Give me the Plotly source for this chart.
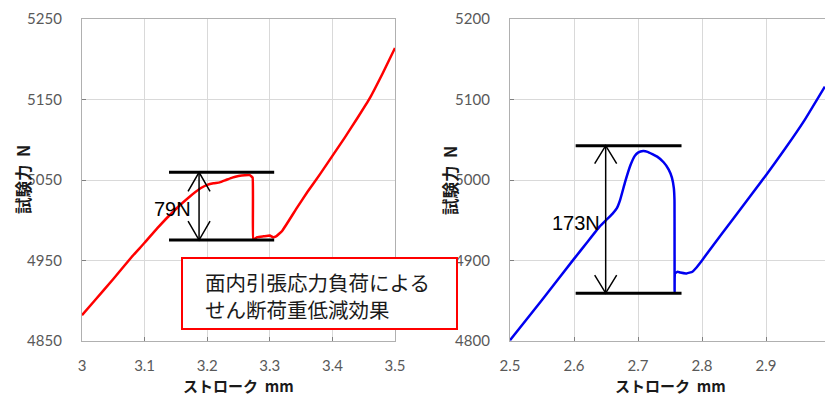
import plotly.graph_objects as go

# ---- data ----
left_x = [3.00, 3.02, 3.05, 3.08, 3.10, 3.12, 3.15, 3.17, 3.19, 3.20, 3.21, 3.22, 3.23, 3.24,
          3.25, 3.26, 3.268, 3.2725, 3.2735, 3.276, 3.28, 3.29, 3.30, 3.305, 3.31, 3.32, 3.343,
          3.36, 3.38, 3.40, 3.42, 3.44, 3.46, 3.48, 3.50]
left_y = [4882, 4900, 4927, 4955, 4972, 4990, 5014, 5028, 5040, 5044, 5046, 5047, 5050, 5053,
          5055, 5056, 5056, 5053, 4977, 4977, 4979, 4980, 4981, 4979, 4980, 4987, 5015,
          5035, 5057, 5080, 5103, 5127, 5152, 5182, 5214]

right_x = [2.50, 2.55, 2.60, 2.62, 2.64, 2.65, 2.66, 2.667, 2.672, 2.68, 2.688, 2.695, 2.70,
           2.708, 2.715, 2.73, 2.74, 2.748, 2.753, 2.756, 2.757, 2.7572, 2.7578, 2.762, 2.766,
           2.776, 2.785, 2.79, 2.80, 2.81, 2.85, 2.90, 2.93, 2.96, 2.992]
right_y = [4801, 4851, 4902, 4922, 4942, 4950, 4958, 4965, 4975, 4998, 5018, 5030, 5034,
           5036, 5035, 5029, 5022, 5013, 5003, 4990, 4975, 4861, 4884, 4886, 4885,
           4884, 4886, 4890, 4900, 4911, 4953, 5006, 5039, 5074, 5116]

# drop annotations: [top level, bottom level], horizontal extent, arrow x, label
left_levels = [5059.6, 4975.4]
left_span = [3.139, 3.307]
left_arrow_x = 3.187
left_label = "79N"
left_label_pos = [3.1438, 5014]

right_levels = [5042.6, 4859.4]
right_span = [2.6026, 2.768]
right_arrow_x = 2.6495
right_label = "173N"
right_label_pos = [2.6026, 4946]

left_xticks = [3.0, 3.1, 3.2, 3.3, 3.4, 3.5]
left_xtick_text = ["3", "3.1", "3.2", "3.3", "3.4", "3.5"]
right_xticks = [2.5, 2.6, 2.7, 2.8, 2.9, 3.0]
right_xtick_text = ["2.5", "2.6", "2.7", "2.8", "2.9", "3"]

box_text = "面内引張応力負荷による<br>せん断荷重低減効果"
x_title = "ストローク\u00a0\u00a0mm"
y_title = "試験力\u00a0\u00a0N"

W, H = 825, 395
fig = go.Figure()

fig.add_trace(go.Scatter(x=left_x, y=left_y, mode="lines", xaxis="x", yaxis="y",
                         line=dict(color="#ff0000", width=2.5, shape="spline", smoothing=0.3),
                         showlegend=False))
fig.add_trace(go.Scatter(x=right_x, y=right_y, mode="lines", xaxis="x2", yaxis="y2",
                         line=dict(color="#0000f0", width=2.5, shape="spline", smoothing=0.3),
                         showlegend=False))


def add_dim(xa, ya, levels, span, ax, hx, hy):
    top, bot = levels
    for lv in levels:
        fig.add_trace(go.Scatter(x=span, y=[lv, lv], mode="lines", xaxis=xa, yaxis=ya,
                                 line=dict(color="black", width=3), showlegend=False))
    fig.add_trace(go.Scatter(x=[ax, ax], y=[top, bot], mode="lines", xaxis=xa, yaxis=ya,
                             line=dict(color="black", width=1.5), showlegend=False))
    fig.add_trace(go.Scatter(x=[ax - hx, ax, ax + hx], y=[top - hy, top, top - hy], mode="lines",
                             xaxis=xa, yaxis=ya, line=dict(color="black", width=1.5), showlegend=False))
    fig.add_trace(go.Scatter(x=[ax - hx, ax, ax + hx], y=[bot + hy, bot, bot + hy], mode="lines",
                             xaxis=xa, yaxis=ya, line=dict(color="black", width=1.5), showlegend=False))


# arrowhead sizes: ~11 px half-width, ~19 px length converted to data units
add_dim("x", "y", left_levels, left_span, left_arrow_x, 11 * 0.5 / 313, 19 * 400 / 322)
add_dim("x2", "y2", right_levels, right_span, right_arrow_x, 11 * 0.1 / 64, 18 * 400 / 322)

tick_font = dict(family="Lato, Open Sans, sans-serif", size=15, color="#595959")
ydom = [1 - 341 / H, 1 - 19 / H]
common = dict(showgrid=True, gridcolor="#d9d9d9", gridwidth=1, showline=True,
              linecolor="#b0b0b0", linewidth=1.2, ticks="inside", ticklen=4,
              tickcolor="#808080", tickfont=tick_font, zeroline=False, automargin=False)

fig.update_layout(
    width=W, height=H, margin=dict(l=0, r=0, t=0, b=0, autoexpand=False),
    paper_bgcolor="white", plot_bgcolor="white",
    xaxis=dict(domain=[82 / W, 395 / W], range=[3.0, 3.5], tickvals=left_xticks,
               ticktext=left_xtick_text, mirror=True, ticklabelstandoff=11, anchor="y", **common),
    yaxis=dict(domain=ydom, range=[4850, 5250], tick0=4850, dtick=100, mirror=True,
               ticklabelstandoff=16, anchor="x", **common),
    xaxis2=dict(domain=[510 / W, 1.0], range=[2.5, 2.5 + 315 / 640], tickvals=right_xticks,
                ticktext=right_xtick_text, mirror=True, ticklabelstandoff=11, anchor="y2", **common),
    yaxis2=dict(domain=ydom, range=[4800, 5200], tick0=4800, dtick=100, mirror=False,
                ticklabelstandoff=16, anchor="x2", **common),
)

jp_bold = dict(family="Noto Sans CJK JP", size=15, color="#1a1a1a")
jp_bold_y = dict(family="Noto Sans CJK JP", size=16.5, color="#1a1a1a")
ann = [
    dict(text="<b>" + x_title + "</b>", x=238.5 / W, y=1 - 385 / H, xref="paper", yref="paper",
         showarrow=False, font=jp_bold, xanchor="center", yanchor="middle"),
    dict(text="<b>" + x_title + "</b>", x=670 / W, y=1 - 385 / H, xref="paper", yref="paper",
         showarrow=False, font=jp_bold, xanchor="center", yanchor="middle"),
    dict(text="<b>" + y_title + "</b>", x=23 / W, y=1 - 180 / H, xref="paper", yref="paper",
         showarrow=False, font=jp_bold_y, textangle=-90, xanchor="center", yanchor="middle"),
    dict(text="<b>" + y_title + "</b>", x=450 / W, y=1 - 180 / H, xref="paper", yref="paper",
         showarrow=False, font=jp_bold_y, textangle=-90, xanchor="center", yanchor="middle"),
    dict(text=left_label, x=left_label_pos[0], y=left_label_pos[1], xref="x", yref="y",
         showarrow=False, font=dict(family="Liberation Sans, Arial", size=20, color="black")),
    dict(text=right_label, x=right_label_pos[0], y=right_label_pos[1], xref="x2", yref="y2",
         showarrow=False, font=dict(family="Liberation Sans, Arial", size=20, color="black")),
    dict(text=box_text, x=203 / W, y=1 - 295 / H, xref="paper", yref="paper", showarrow=False,
         align="left", xanchor="left", yanchor="middle",
         font=dict(family="Noto Sans CJK JP", size=20.5, color="#1a1a1a")),
]
fig.update_layout(annotations=ann)

fig.add_shape(type="rect", xref="paper", yref="paper", x0=182 / W, x1=457 / W,
              y0=1 - 329 / H, y1=1 - 258 / H, line=dict(color="#ff0000", width=2),
              fillcolor="white", layer="above")

fig.write_html("out.html", config={"displayModeBar": False},
               post_script="document.body.style.margin='0';document.body.style.padding='0';")
